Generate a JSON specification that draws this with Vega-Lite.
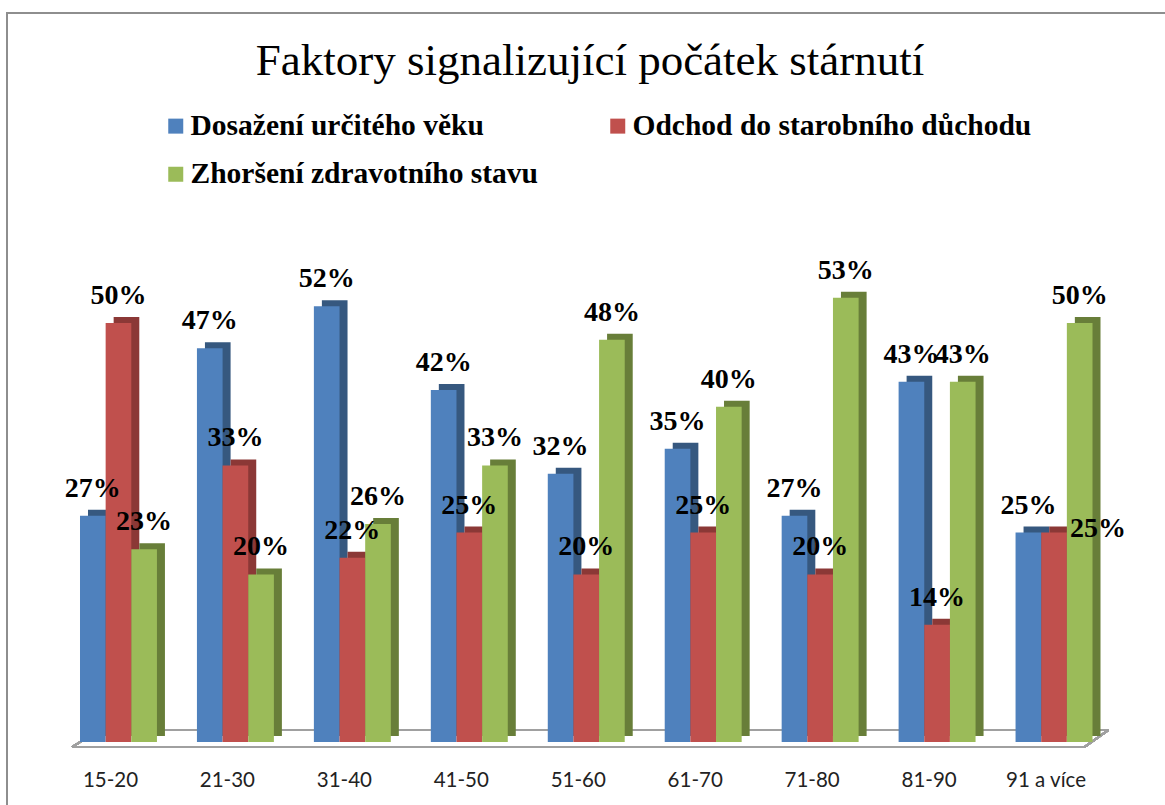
{
  "$schema": "https://vega.github.io/schema/vega-lite/v6.json",
  "width": 1158,
  "height": 792,
  "autosize": {"type": "none"},
  "padding": {"left": 7, "top": 13, "right": 0, "bottom": 0},
  "background": "white",
  "config": {
    "view": {"stroke": "#8E8E8E", "strokeWidth": 2, "strokeDash": [1158, 1950, 792]}
  },
  "title": {
    "text": "Faktory signalizující počátek stárnutí",
    "font": "Liberation Serif",
    "fontSize": 45,
    "fontWeight": "normal",
    "color": "#000000",
    "anchor": "middle",
    "frame": "group",
    "baseline": "alphabetic",
    "offset": -107,
    "dx": 4
  },
  "data": {
    "values": [
      {"age": "15-20", "series": "Dosažení určitého věku", "value": 0.27},
      {"age": "15-20", "series": "Odchod do starobního důchodu", "value": 0.50},
      {"age": "15-20", "series": "Zhoršení zdravotního stavu", "value": 0.23},
      {"age": "21-30", "series": "Dosažení určitého věku", "value": 0.47},
      {"age": "21-30", "series": "Odchod do starobního důchodu", "value": 0.33},
      {"age": "21-30", "series": "Zhoršení zdravotního stavu", "value": 0.20},
      {"age": "31-40", "series": "Dosažení určitého věku", "value": 0.52},
      {"age": "31-40", "series": "Odchod do starobního důchodu", "value": 0.22},
      {"age": "31-40", "series": "Zhoršení zdravotního stavu", "value": 0.26},
      {"age": "41-50", "series": "Dosažení určitého věku", "value": 0.42},
      {"age": "41-50", "series": "Odchod do starobního důchodu", "value": 0.25},
      {"age": "41-50", "series": "Zhoršení zdravotního stavu", "value": 0.33},
      {"age": "51-60", "series": "Dosažení určitého věku", "value": 0.32},
      {"age": "51-60", "series": "Odchod do starobního důchodu", "value": 0.20},
      {"age": "51-60", "series": "Zhoršení zdravotního stavu", "value": 0.48},
      {"age": "61-70", "series": "Dosažení určitého věku", "value": 0.35},
      {"age": "61-70", "series": "Odchod do starobního důchodu", "value": 0.25},
      {"age": "61-70", "series": "Zhoršení zdravotního stavu", "value": 0.40},
      {"age": "71-80", "series": "Dosažení určitého věku", "value": 0.27},
      {"age": "71-80", "series": "Odchod do starobního důchodu", "value": 0.20},
      {"age": "71-80", "series": "Zhoršení zdravotního stavu", "value": 0.53},
      {"age": "81-90", "series": "Dosažení určitého věku", "value": 0.43},
      {"age": "81-90", "series": "Odchod do starobního důchodu", "value": 0.14},
      {"age": "81-90", "series": "Zhoršení zdravotního stavu", "value": 0.43},
      {"age": "91 a více", "series": "Dosažení určitého věku", "value": 0.25},
      {"age": "91 a více", "series": "Odchod do starobního důchodu", "value": 0.25},
      {"age": "91 a více", "series": "Zhoršení zdravotního stavu", "value": 0.50}
    ]
  },
  "encoding": {
    "x": {
      "field": "age",
      "type": "nominal",
      "sort": null,
      "scale": {
        "domain": ["15-20", "21-30", "31-40", "41-50", "51-60", "61-70", "71-80", "81-90", "91 a více"],
        "range": [53, 1105.5], "paddingInner": 0.342, "paddingOuter": 0.171
      },
      "axis": {
        "title": null,
        "orient": "bottom",
        "offset": -58,
        "domain": false,
        "ticks": false,
        "tickSize": 0,
        "grid": false,
        "labelAngle": 0,
        "labelFont": "Lato",
        "labelFontSize": 20.5,
        "labelColor": "#222222",
        "labelBaseline": "alphabetic",
        "labelPadding": 39,
        "labelOffset": -8
      }
    },
    "y": {
      "field": "value",
      "type": "quantitative",
      "scale": {"domain": [0, 0.6], "range": [729, 226.2], "nice": false, "zero": true},
      "axis": null
    }
  },
  "resolve": {"scale": {"xOffset": "independent"}},
  "layer": [
    {
      "mark": {"type": "rule", "color": "#A0A0A0", "strokeWidth": 2, "xOffset": -8, "x2Offset": -8, "yOffset": 5},
      "encoding": {
        "x": {"datum": "15-20", "bandPosition": 0},
        "x2": {"datum": "91 a více", "bandPosition": 1},
        "y": {"datum": 0}
      }
    },
    {
      "mark": {"type": "rule", "color": "#A0A0A0", "strokeWidth": 2, "xOffset": 20, "x2Offset": 16, "yOffset": -12},
      "encoding": {
        "x": {"datum": "15-20", "bandPosition": 0},
        "x2": {"datum": "91 a více", "bandPosition": 1},
        "y": {"datum": 0}
      }
    },
    {
      "mark": {"type": "rule", "color": "#A0A0A0", "strokeWidth": 2, "xOffset": -8, "x2Offset": 20, "yOffset": 5, "y2Offset": -12},
      "encoding": {
        "x": {"datum": "15-20", "bandPosition": 0},
        "x2": {"datum": "15-20", "bandPosition": 0},
        "y": {"datum": 0},
        "y2": {"datum": 0}
      }
    },
    {
      "mark": {"type": "rule", "color": "#A0A0A0", "strokeWidth": 2, "xOffset": -8, "x2Offset": 16, "yOffset": 5, "y2Offset": -12},
      "encoding": {
        "x": {"datum": "91 a více", "bandPosition": 1},
        "x2": {"datum": "91 a více", "bandPosition": 1},
        "y": {"datum": 0},
        "y2": {"datum": 0}
      }
    },
    {
      "mark": {"type": "bar", "yOffset": -6, "y2Offset": -6},
      "encoding": {
        "xOffset": {
          "field": "series", "type": "nominal",
          "scale": {"domain": ["Dosažení určitého věku", "Odchod do starobního důchodu", "Zhoršení zdravotního stavu"], "range": [8, 84.95]}
        },
        "fill": {
          "field": "series",
          "type": "nominal",
          "scale": {"range": ["#36587F", "#8B3836", "#687E39"]},
          "legend": null
        }
      }
    },
    {
      "mark": {"type": "bar"},
      "encoding": {
        "xOffset": {
          "field": "series", "type": "nominal",
          "scale": {"domain": ["Dosažení určitého věku", "Odchod do starobního důchodu", "Zhoršení zdravotního stavu"], "range": [0, 76.95]}
        },
        "color": {
          "field": "series",
          "type": "nominal",
          "scale": {"domain": ["Dosažení určitého věku", "Odchod do starobního důchodu", "Zhoršení zdravotního stavu"], "range": ["#4F81BD", "#C0504D", "#9BBB59"]},
          "legend": {
            "title": null,
            "orient": "none",
            "direction": "horizontal",
            "legendX": 154,
            "legendY": 98,
            "columns": 2,
            "columnPadding": 65,
            "rowPadding": 17.5,
            "padding": 0,
            "symbolType": "square",
            "symbolSize": 225,
            "symbolStrokeWidth": 0,
            "labelFont": "Liberation Serif",
            "labelFontWeight": "bold",
            "labelFontSize": 29.5,
            "labelColor": "#000000",
            "labelOffset": 0,
            "labelLimit": 600
          }
        }
      }
    },
    {
      "transform": [{"filter": "!(datum.age === '91 a více' && datum.series === 'Odchod do starobního důchodu')"}],
      "mark": {"type": "text", "font": "Liberation Serif", "fontWeight": "bold", "fontSize": 28, "color": "#000000", "baseline": "alphabetic", "align": "center", "dy": -19},
      "encoding": {
        "xOffset": {
          "field": "series", "type": "nominal",
          "scale": {"domain": ["Dosažení určitého věku", "Odchod do starobního důchodu", "Zhoršení zdravotního stavu"], "range": [0, 76.95]}
        },
        "text": {"field": "value", "type": "quantitative", "format": ".0%"}
      }
    },
    {
      "transform": [{"filter": "datum.age === '91 a více' && datum.series === 'Odchod do starobního důchodu'"}],
      "mark": {"type": "text", "font": "Liberation Serif", "fontWeight": "bold", "fontSize": 28, "color": "#000000", "baseline": "alphabetic", "align": "center", "dx": 44, "dy": 4},
      "encoding": {
        "xOffset": {
          "field": "series", "type": "nominal",
          "scale": {"domain": ["Dosažení určitého věku", "Odchod do starobního důchodu", "Zhoršení zdravotního stavu"], "range": [0, 76.95]}
        },
        "text": {"field": "value", "type": "quantitative", "format": ".0%"}
      }
    }
  ]
}
